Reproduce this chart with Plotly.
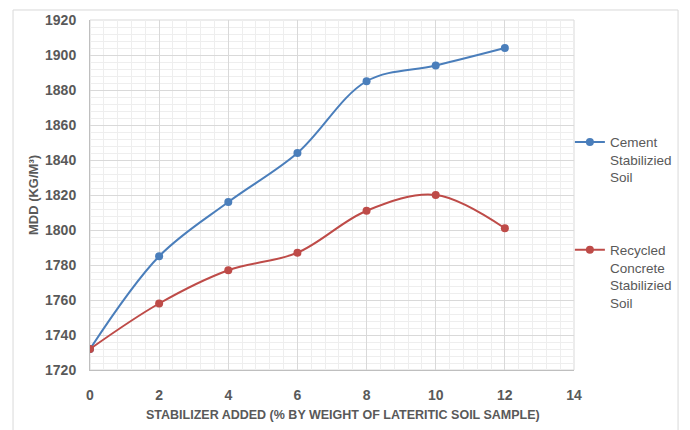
import plotly.graph_objects as go

stabilizer_pct = [0, 2, 4, 6, 8, 10, 12]
cement_mdd = [1732, 1785, 1816, 1844, 1885, 1894, 1904]
recycled_mdd = [1732, 1758, 1777, 1787, 1811, 1820, 1801]
series_names = ["Cement<br>Stabilizied<br>Soil", "Recycled<br>Concrete<br>Stabilizied<br>Soil"]
x_ticks = [0, 2, 4, 6, 8, 10, 12, 14]
y_ticks = [1720, 1740, 1760, 1780, 1800, 1820, 1840, 1860, 1880, 1900, 1920]
x_title = "STABILIZER ADDED (% BY WEIGHT OF LATERITIC SOIL SAMPLE)"
y_title = "MDD (KG/M³)"

FONT = "Liberation Sans Narrow, Liberation Sans, Arial, sans-serif"
GRAY = "#595959"

fig = go.Figure()
fig.add_trace(go.Scatter(x=stabilizer_pct, y=cement_mdd, mode="lines+markers",
                         name=series_names[0], line=dict(color="#4a7ebb", width=2, shape="spline"),
                         marker=dict(size=8, color="#4a7ebb"), legendgroup="a"))
fig.add_trace(go.Scatter(x=stabilizer_pct, y=recycled_mdd, mode="lines+markers",
                         name=series_names[1], line=dict(color="#be4b48", width=2, shape="spline"),
                         marker=dict(size=8, color="#be4b48"), legendgroup="b"))

fig.update_layout(
    width=690, height=430,
    margin=dict(l=82, r=124, t=12, b=68),
    paper_bgcolor="white", plot_bgcolor="white",
    font=dict(family=FONT, color=GRAY, size=12),
    legend=dict(x=0.9915, y=0.695, xanchor="left", yanchor="top", valign="top",
                tracegroupgap=52, itemwidth=30,
                font=dict(family="Liberation Sans, Arial, sans-serif", size=13.5, color=GRAY),
                bgcolor="rgba(0,0,0,0)"),
    xaxis=dict(range=[0, 14], tickvals=x_ticks, showgrid=True, gridcolor="#d9d9d9", gridwidth=1,
               minor=dict(dtick=0.4, showgrid=True, gridcolor="#eeeeee", gridwidth=1),
               showline=True, linecolor="#bfbfbf", linewidth=1, mirror=False, zeroline=False,
               automargin=False,
               tickfont=dict(family=FONT, size=14, color=GRAY, weight="bold"),
               ticks="", ticklabelstandoff=12),
    yaxis=dict(range=[1720, 1920], tickvals=y_ticks, showgrid=True, gridcolor="#d9d9d9", gridwidth=1,
               minor=dict(dtick=4, showgrid=True, gridcolor="#eeeeee", gridwidth=1),
               showline=True, linecolor="#bfbfbf", linewidth=1, zeroline=False,
               automargin=False,
               tickfont=dict(family=FONT, size=14, color=GRAY, weight="bold"),
               title=dict(text=y_title,
                          font=dict(family=FONT, size=13, color=GRAY, weight="bold"), standoff=3),
               ticks="", ticklabelstandoff=10),
)

fig.add_annotation(text=x_title, xref="paper", yref="paper", x=0.522, y=-0.128,
                   xanchor="center", yanchor="middle", showarrow=False,
                   font=dict(family=FONT, size=12.5, color=GRAY, weight="bold"))

fig.add_shape(type="rect", xref="paper", yref="paper", x0=-0.159, x1=1.215, y0=-0.2, y1=1.0286,
              line=dict(color="#d9d9d9", width=1), fillcolor="rgba(0,0,0,0)", layer="below")
fig.add_shape(type="rect", xref="paper", yref="paper", x0=0, x1=1, y0=0, y1=1,
              line=dict(color="#d9d9d9", width=1), fillcolor="rgba(0,0,0,0)", layer="below")

fig.write_html("out.html")
